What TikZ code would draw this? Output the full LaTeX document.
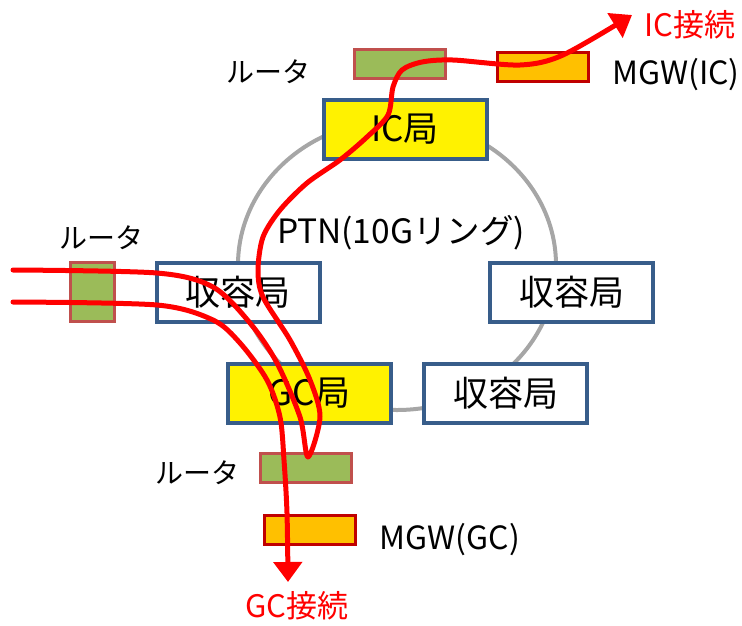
\documentclass[tikz,border=0pt]{standalone}
\usepackage{fontspec}
\setmainfont{Noto Sans CJK JP}
\usetikzlibrary{arrows.meta,positioning}
\definecolor{stnblue}{HTML}{385D8A}
\definecolor{rtgreen}{HTML}{9BBB59}
\definecolor{rtedge}{HTML}{C0504D}
\definecolor{mgwfill}{HTML}{FFC000}
\definecolor{mgwedge}{HTML}{C00000}
\definecolor{ringgray}{HTML}{A6A6A6}

\begin{document}
\begin{tikzpicture}[x=1pt, y=-1pt, >=Latex]
\tikzstyle{stn}=[draw=stnblue, line width=4pt, minimum width=163pt, minimum height=59pt, inner sep=0pt, font=\fontsize{35}{37}\selectfont]
\tikzstyle{rt}=[draw=rtedge, fill=rtgreen, line width=3pt, minimum width=91pt, minimum height=29pt, inner sep=0pt]
\tikzstyle{mgw}=[draw=mgwedge, fill=mgwfill, line width=3pt, minimum width=91pt, minimum height=29pt, inner sep=0pt]
\tikzstyle{lbl}=[inner sep=0pt, font=\fontsize{28}{30}\selectfont]
\tikzstyle{conn}=[inner sep=0pt, text=red, font=\fontsize{31}{33}\selectfont]
\tikzstyle{route}=[draw=red, line width=5pt, line cap=round, line join=round]
\useasboundingbox (0,0) rectangle (742,625);
% PTN ring
\draw[ringgray, line width=4pt] (397,265) ellipse [x radius=159pt, y radius=145pt];
\node[lbl, font=\fontsize{33.5}{35}\selectfont] (ptn) at (401,233) {PTN(10Gリング)};
% stations
\node[stn, fill=yellow] (icst) at (405,129) {IC局};
\node[stn, fill=white] (acc1) at (238,292.5) {収容局};
\node[stn, fill=white] (acc2) at (571.5,292.5) {収容局};
\node[stn, fill=yellow] (gcst) at (309.5,393.5) {GC局};
\node[stn, fill=white] (acc3) at (505.5,393.5) {収容局};
% routers and gateways
\node[rt] (rtop) at (399.5,63.5) {};
\node[mgw] (mgwic) at (543,66.5) {};
\node[rt, minimum width=44pt, minimum height=59pt] (rleft) at (92,291.5) {};
\node[rt] (rbot) at (306,467.5) {};
\node[mgw] (mgwgc) at (309.5,529.5) {};
\node[lbl] (lrtop) at (268,72) {ルータ};
\node[lbl] (lrleft) at (101,238) {ルータ};
\node[lbl] (lrbot) at (197,473) {ルータ};
\node[lbl, font=\fontsize{32}{34}\selectfont] (lmgwic) at (676,75) {MGW(IC)};
\node[lbl, font=\fontsize{32}{34}\selectfont] (lmgwgc) at (450,540) {MGW(GC)};
% connections
\coordinate (inA) at (13,270);
\coordinate (inB) at (13,302);
\coordinate (icend) at (632,15);
\coordinate (gcend) at (288,582);
\node[conn] (icconn) at (690,25) {IC接続};
\node[conn] (gcconn) at (297,606) {GC接続};
\draw[route, -{Triangle[width=28pt,length=20pt]}] plot[smooth] coordinates {(inA) (157,273) (213,287) (250,323) (277,363) (300,417) (308,457) (320,417) (310,380) (290,340) (263,297) (258,270) (263,237) (280,210) (307,183) (340,160) (367,137) (388,115) (393,87) (402,70) (422,62) (453,60) (520,65) (563,55) (icend)};
\draw[route, -{Triangle[width=28pt,length=20pt]}] plot[smooth] coordinates {(inB) (157,305) (213,320) (240,343) (267,380) (280,417) (284,460) (287,513) (gcend)};
\end{tikzpicture}
\end{document}
